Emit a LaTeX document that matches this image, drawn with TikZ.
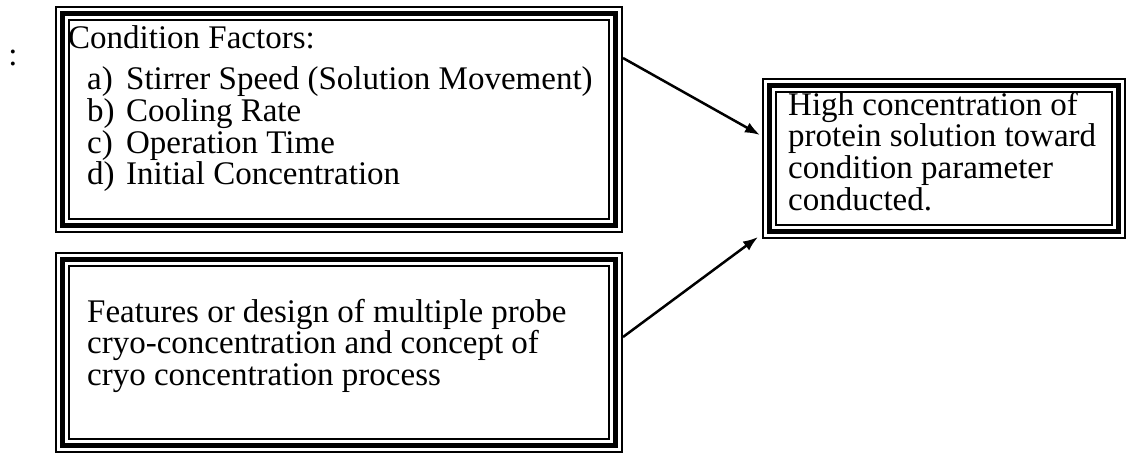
\documentclass[tikz,border=0pt]{standalone}
\usepackage{fontspec}
\setmainfont{Liberation Serif}
\usetikzlibrary{arrows.meta}
\tikzset{
    tribox/.style={draw, line width=5pt, outer sep=7.5pt, inner sep=0pt,
        preaction={draw, line width=15pt},
        preaction={draw=white, line width=11pt}},
    boxtext/.style={anchor=base west, inner sep=0pt, font=\fontsize{33}{31.7}\selectfont}
}
\begin{document}
\begin{tikzpicture}[x=1pt, y=-1pt, >={Latex[length=15pt,width=11pt]}]
\useasboundingbox (0,0) rectangle (1127,453);
% frames
\node[tribox, minimum width=553pt, minimum height=212pt] (condbox) at (339,119.5) {};
\node[tribox, minimum width=553pt, minimum height=186pt] (featbox) at (339,352.5) {};
\node[tribox, minimum width=349pt, minimum height=146pt] (resultbox) at (944,158.5) {};
\node[boxtext, anchor=base] (colon) at (13,65) {:};
% condition factors
\node[boxtext] (condhead) at (68,48) {Condition Factors:};
\foreach \lab/\txt [count=\i] in {a/Stirrer Speed (Solution Movement), b/Cooling Rate, c/Operation Time, d/Initial Concentration}
{
    \node[boxtext] (conditem\i) at (87,{89.5+31.8*(\i-1)}) {\makebox[39pt][l]{\lab)}\txt};
}
% features
\foreach \txt [count=\i] in {Features or design of multiple probe, cryo-concentration and concept of, cryo concentration process}
{
    \node[boxtext] (featline\i) at (87,{322+31.7*(\i-1)}) {\txt};
}
% result
\foreach \txt [count=\i] in {High concentration of, protein solution toward, condition parameter, conducted.}
{
    \node[boxtext] (resultline\i) at (788,{115+31.7*(\i-1)}) {\txt};
}
\draw[->, line width=2.5pt] ([yshift=-52pt]condbox.north east) -- ([xshift=-2pt, yshift=-57pt]resultbox.north west);
\draw[->, line width=2.5pt] ([yshift=-85pt]featbox.north east) -- ([xshift=-4pt, yshift=2pt]resultbox.south west);
\end{tikzpicture}
\end{document}
